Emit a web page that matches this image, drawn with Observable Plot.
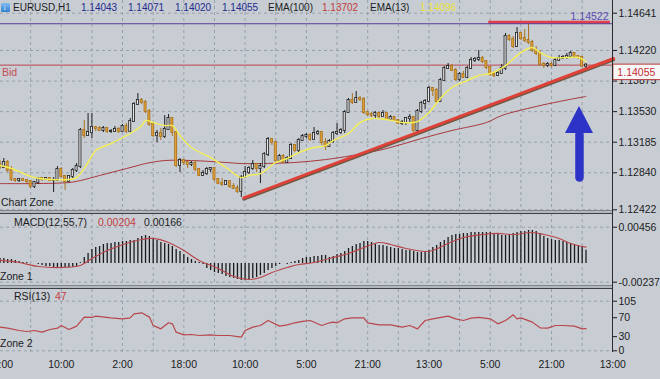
<!DOCTYPE html>
<html><head><meta charset="utf-8">
<script src="https://cdn.jsdelivr.net/npm/d3@7"></script>
<script src="https://cdn.jsdelivr.net/npm/@observablehq/plot@0.6"></script>
<style>
html,body{margin:0;padding:0;background:#c8cdd4;}
#wrap{position:relative;width:660px;height:379px;overflow:hidden;background:#c8cdd4;font-family:"Liberation Sans",Arial,sans-serif;color:#1c1c1c;}
#wrap svg{position:absolute;left:0;}
.t{position:absolute;white-space:nowrap;line-height:1;}
</style></head><body><div id="wrap"></div>
<script>
// ---------------- DATA ----------------
const timeLabels = ["18:00","10:00","2:00","18:00","10:00","5:00","21:00","13:00","5:00","21:00","13:00"];
const timeTicks = [0,16,32,48,64,80,96,112,128,144,160];
const gridBars = [8,16,24,32,40,48,56,64,72,80,88,96,104,112,120,128,136,144,152];
const priceTicks = [1.14641,1.14220,1.13875,1.13530,1.13185,1.12840,1.12422];
const macdTicks = [0.00456,-0.00237];
const rsiTicks = [105,70,30,0];

const firstOpen = 1.12933;
const closes = [
1.12899,1.12956,1.12865,1.12764,1.12752,1.12764,1.12752,1.12741,1.12685,1.12730,
1.12775,1.12764,1.12775,1.12752,1.12752,1.12877,1.12798,1.12741,1.12798,1.12865,
1.12910,1.13317,1.13260,1.13294,1.13351,1.13339,1.13317,1.13339,1.13305,1.13305,
1.13328,1.13305,1.13362,1.13305,1.13418,1.13610,1.13655,1.13633,1.13531,1.13384,
1.13260,1.13283,1.13249,1.13328,1.13452,1.13294,1.12922,1.12978,1.12956,1.12933,
1.12944,1.12877,1.12809,1.12831,1.12877,1.12888,1.12764,1.12718,1.12707,1.12741,
1.12685,1.12662,1.12628,1.12786,1.12843,1.12888,1.12933,1.12888,1.12910,1.13046,
1.13215,1.13181,1.12978,1.13023,1.12956,1.13001,1.13147,1.13091,1.13204,1.13249,
1.13260,1.13215,1.13283,1.13294,1.13181,1.13136,1.13193,1.13283,1.13294,1.13317,
1.13520,1.13655,1.13633,1.13678,1.13667,1.13520,1.13497,1.13486,1.13509,1.13475,
1.13509,1.13441,1.13463,1.13430,1.13396,1.13407,1.13452,1.13463,1.13317,1.13531,
1.13621,1.13644,1.13791,1.13768,1.13644,1.13881,1.14017,1.14039,1.13994,1.13892,
1.13949,1.13915,1.14017,1.14107,1.14118,1.14129,1.14096,1.14028,1.13949,1.13938,
1.13960,1.14017,1.14378,1.14344,1.14265,1.14412,1.14355,1.14333,1.14310,1.14220,
1.14186,1.14062,1.14050,1.14062,1.14050,1.14107,1.14129,1.14141,1.14152,1.14186,
1.14152,1.14141,1.14043,1.14055];
const highs = [
1.12978,1.13001,1.12978,1.12910,1.12775,1.12775,1.12775,1.12764,1.12752,1.12741,
1.12786,1.12786,1.12786,1.12775,1.12786,1.12910,1.12899,1.12809,1.12809,1.12888,
1.12944,1.13339,1.13430,1.13509,1.13509,1.13362,1.13362,1.13362,1.13351,1.13328,
1.13362,1.13351,1.13384,1.13396,1.13452,1.13633,1.13734,1.13678,1.13655,1.13554,
1.13407,1.13317,1.13339,1.13486,1.13497,1.13452,1.13305,1.13001,1.12989,1.12956,
1.12967,1.12978,1.12888,1.12865,1.12899,1.12899,1.12888,1.12775,1.12775,1.12752,
1.12741,1.12718,1.12696,1.12809,1.12910,1.12910,1.12978,1.12944,1.12944,1.13068,
1.13238,1.13226,1.13193,1.13046,1.13046,1.13023,1.13170,1.13159,1.13226,1.13272,
1.13283,1.13283,1.13351,1.13317,1.13305,1.13226,1.13215,1.13305,1.13396,1.13339,
1.13542,1.13678,1.13734,1.13757,1.13700,1.13689,1.13531,1.13520,1.13531,1.13497,
1.13542,1.13509,1.13486,1.13475,1.13441,1.13430,1.13463,1.13497,1.13475,1.13554,
1.13644,1.13667,1.13813,1.13802,1.13791,1.13904,1.14039,1.14073,1.14062,1.14017,
1.13971,1.13983,1.14039,1.14141,1.14141,1.14220,1.14152,1.14107,1.14039,1.13983,
1.13994,1.14062,1.14412,1.14400,1.14378,1.14479,1.14423,1.14457,1.14522,1.14333,
1.14265,1.14220,1.14084,1.14084,1.14084,1.14129,1.14163,1.14163,1.14186,1.14208,
1.14186,1.14163,1.14152,1.14071];
const lows = [
1.12877,1.12888,1.12843,1.12741,1.12730,1.12730,1.12741,1.12718,1.12662,1.12662,
1.12707,1.12741,1.12752,1.12741,1.12617,1.12741,1.12775,1.12640,1.12730,1.12775,
1.12843,1.12888,1.13226,1.13249,1.13226,1.13305,1.13305,1.13294,1.13283,1.13283,
1.13294,1.13283,1.13305,1.13283,1.13294,1.13407,1.13599,1.13610,1.13509,1.13362,
1.13238,1.13181,1.13204,1.13226,1.13317,1.13249,1.12899,1.12843,1.12922,1.12888,
1.12910,1.12854,1.12798,1.12798,1.12809,1.12843,1.12741,1.12707,1.12685,1.12696,
1.12662,1.12651,1.12606,1.12561,1.12775,1.12820,1.12865,1.12843,1.12718,1.12888,
1.13023,1.13147,1.12956,1.12967,1.12944,1.12944,1.12989,1.13068,1.13068,1.13193,
1.13226,1.13193,1.13204,1.13260,1.13147,1.13091,1.13125,1.13170,1.13260,1.13272,
1.13283,1.13509,1.13610,1.13633,1.13644,1.13497,1.13475,1.13463,1.13452,1.13452,
1.13475,1.13430,1.13430,1.13418,1.13384,1.13373,1.13373,1.13407,1.13294,1.13305,
1.13509,1.13554,1.13633,1.13700,1.13621,1.13633,1.13870,1.14005,1.13983,1.13870,
1.13870,1.13904,1.13904,1.14005,1.14084,1.14096,1.14073,1.14005,1.13926,1.13915,
1.13926,1.13949,1.13994,1.14321,1.14242,1.14254,1.14333,1.14310,1.14287,1.14197,
1.14163,1.14039,1.14017,1.14028,1.14028,1.14039,1.14096,1.14118,1.14118,1.14129,
1.14129,1.14118,1.14030,1.14020];

const ema13Bars = [0,3,9,13,18,20,23,25,29,34,37,38,40,43,45,47,50,55,59,63,65,68,70,72,75,78,82,85,87,91,94,97,101,105,109,112,115,118,122,125,128,132,136,139,141,144,148,151,153];
const ema13Vals = [1.12922,1.12888,1.12786,1.12764,1.12764,1.12786,1.12956,1.13091,1.13170,1.13283,1.13373,1.13430,1.13407,1.13373,1.13373,1.13260,1.13125,1.13012,1.12899,1.12786,1.12809,1.12831,1.12888,1.12956,1.13001,1.13068,1.13125,1.13147,1.13204,1.13283,1.13407,1.13452,1.13441,1.13407,1.13418,1.13520,1.13678,1.13802,1.13881,1.13938,1.13960,1.14050,1.14197,1.14254,1.14197,1.14141,1.14141,1.14141,1.14096];
const ema100Bars = [0,9,18,21,26,31,35,38,43,50,59,63,68,77,85,92,101,110,118,127,131,140,146,153];
const ema100Vals = [1.12718,1.12718,1.12730,1.12752,1.12809,1.12865,1.12910,1.12944,1.12978,1.12978,1.12956,1.12944,1.12944,1.12956,1.12989,1.13035,1.13114,1.13226,1.13317,1.13407,1.13486,1.13588,1.13644,1.13702];

const bidPrice = 1.14055;
const highMark = 1.14522;
const highBand = {v: 1.14539, b1: 127.6, b2: 159.4};
const trendBars = [63.66, 160.2];
const trendVals = [1.12557, 1.14130];
const arrowHeadBars = [147.65, 151.3, 154.96];
const arrowHeadTop = [1.13283, 1.13588, 1.13283];
const arrowBase = 1.13283;
const arrowShaftBars = [151.3, 151.3];
const arrowShaftVals = [1.13272, 1.12786];

const macdHist = [
0.00062,0.00062,0.00049,0.00049,0.00037,0.00024,0.00011,0.00011,0,0,
-0.00014,-0.00026,-0.00039,-0.00039,-0.00052,-0.00052,-0.00052,-0.00052,-0.00052,-0.00052,
-0.00039,0.00011,0.00074,0.00125,0.00175,0.00200,0.00213,0.00238,0.00251,0.00251,
0.00263,0.00263,0.00276,0.00276,0.00289,0.00289,0.00314,0.00339,0.00352,0.00339,
0.00314,0.00289,0.00263,0.00251,0.00238,0.00213,0.00175,0.00150,0.00112,0.00074,
0.00049,0.00024,0.00011,-0.00014,-0.00064,-0.00089,-0.00115,-0.00127,-0.00140,-0.00165,
-0.00178,-0.00190,-0.00203,-0.00215,-0.00215,-0.00203,-0.00190,-0.00178,-0.00152,-0.00127,
-0.00089,-0.00064,-0.00039,-0.00014,0,-0.00014,0.00011,0.00024,0.00037,0.00062,
0.00074,0.00074,0.00087,0.00087,0.00100,0.00100,0.00074,0.00087,0.00112,0.00125,
0.00150,0.00188,0.00213,0.00238,0.00251,0.00276,0.00276,0.00263,0.00238,0.00226,
0.00226,0.00213,0.00200,0.00188,0.00188,0.00175,0.00163,0.00163,0.00150,0.00137,
0.00137,0.00150,0.00163,0.00200,0.00226,0.00263,0.00289,0.00326,0.00352,0.00364,
0.00364,0.00377,0.00377,0.00389,0.00389,0.00389,0.00389,0.00389,0.00389,0.00377,
0.00364,0.00352,0.00352,0.00364,0.00377,0.00389,0.00402,0.00402,0.00415,0.00415,
0.00402,0.00377,0.00339,0.00314,0.00301,0.00289,0.00289,0.00276,0.00263,0.00251,
0.00238,0.00226,0.00213,0.00166];
const macdSigBars = [0,5,10,16,21,24,28,33,37,40,44,48,52,57,61,65,68,71,75,78,82,86,91,95,99,102,106,111,113,117,121,126,130,134,139,142,146,149,153];
const macdSigVals = [0.00037,0.00011,-0.00039,-0.00052,-0.00026,0.00062,0.00163,0.00251,0.00301,0.00314,0.00263,0.00163,0.00037,-0.00064,-0.00165,-0.00203,-0.00178,-0.00115,-0.00052,-0.00014,0.00011,0.00062,0.00125,0.00200,0.00263,0.00238,0.00188,0.00150,0.00163,0.00251,0.00326,0.00364,0.00377,0.00364,0.00389,0.00364,0.00314,0.00251,0.00204];

const rsiBars = [0,2,5,7,9,11,13,15,16,18,20,22,24,25,29,32,34,35,37,39,40,41,42,44,45,46,48,50,52,55,57,60,63,64,66,68,70,73,75,77,79,81,84,86,87,88,90,92,95,96,99,102,105,107,109,111,113,117,119,121,123,125,128,130,132,134,135,136,139,141,143,145,147,150,152,153];
const rsiVals = [50.1,47.9,43.0,40.9,43.0,39.5,45.1,47.9,53.6,45.1,52.2,71.3,70.6,73.4,69.8,67.7,69.8,78.3,80.4,71.3,53.6,50.1,46.5,59.3,57.1,39.5,33.8,34.5,32.4,33.8,32.4,32.4,28.9,43.0,50.1,53.6,64.2,52.2,55.0,59.3,62.1,64.2,53.6,59.3,60.7,59.3,67.7,69.8,69.8,59.3,55.0,55.0,50.1,53.6,46.5,64.2,67.7,73.4,67.7,64.2,69.1,70.6,67.7,57.1,64.2,76.2,67.7,69.8,60.7,48.7,47.9,53.6,53.6,52.2,46.5,47];

// ---------------- TABLES ----------------
const candles = closes.map((c, i) => ({i, o: i ? closes[i-1] : firstOpen, c, h: highs[i], l: lows[i]}));
const bull = candles.filter(d => d.c >= d.o);
const bear = candles.filter(d => d.c < d.o);
const zip = (b, v) => b.map((x, k) => ({b: x, v: v[k]}));
const ema13 = zip(ema13Bars, ema13Vals);
const ema100 = zip(ema100Bars, ema100Vals);
const trend = zip(trendBars, trendVals);
const arrowHead = arrowHeadBars.map((b, k) => ({b, lo: arrowBase, hi: arrowHeadTop[k]}));
const arrowShaft = zip(arrowShaftBars, arrowShaftVals);
const macd = macdHist.map((v, i) => ({i, v}));
const macdSig = zip(macdSigBars, macdSigVals);
const rsi = zip(rsiBars, rsiVals);

// ---------------- STYLE ----------------
const FONT = "'Liberation Sans', Arial, sans-serif";
const GRID = {stroke: "#98a0a9", strokeDasharray: "3,3", strokeWidth: 1};
const X = {domain: [0, 160], range: [-0.5, 612.3]};
const baseStyle = {background: "transparent", fontFamily: FONT, fontSize: "10.5px", color: "#1c1c1c", overflow: "visible"};
const common = {width: 660, marginLeft: 0, marginRight: 48, style: baseStyle};
const wrap = document.getElementById("wrap");
function put(svg, top) { svg.style.top = top + "px"; wrap.appendChild(svg); }
const f5 = d => d.toFixed(5);
const AX = {anchor: "right", tickSize: 4, tickPadding: 2, fontSize: 10.5, label: null};

// ---------------- MAIN PANEL ----------------
const BULL_F = "#e6e6e6", BULL_S = "#1e1e1e", BEAR_F = "#e3a238", BEAR_S = "#a8711c";
const main = Plot.plot({
  ...common, height: 216, marginTop: 0, marginBottom: 6,
  x: {...X, axis: null},
  y: {domain: [1.12422, 1.14641], range: [209.3, 12.7]},
  marks: [
    Plot.ruleY(priceTicks, GRID),
    Plot.ruleX(gridBars, GRID),
    Plot.ruleY([bidPrice], {stroke: "#b9444b", strokeWidth: 1}),
    Plot.line(ema100, {x: "b", y: "v", stroke: "#a8383c", strokeWidth: 1, curve: "catmull-rom"}),
    Plot.line(trend, {x: "b", y: "v", stroke: "#6e5a44", strokeWidth: 3, dy: 1.3}),
    Plot.line(trend, {x: "b", y: "v", stroke: "#df4139", strokeWidth: 3}),
    Plot.ruleX(bear, {x: "i", y1: "l", y2: "h", stroke: BEAR_S, strokeWidth: 1}),
    Plot.ruleX(bull, {x: "i", y1: "l", y2: "h", stroke: BULL_S, strokeWidth: 1}),
    Plot.rect(bear, {x1: d => d.i - 0.27, x2: d => d.i + 0.27, y1: "o", y2: "c", fill: BEAR_F, stroke: BEAR_S, strokeWidth: 0.8, insetTop: -0.5, insetBottom: -0.5}),
    Plot.rect(bull, {x1: d => d.i - 0.27, x2: d => d.i + 0.27, y1: "o", y2: "c", fill: BULL_F, stroke: BULL_S, strokeWidth: 0.8, insetTop: -0.5, insetBottom: -0.5}),
    Plot.line(ema13, {x: "b", y: "v", stroke: "#f4ef55", strokeWidth: 1.4, curve: "catmull-rom"}),
    Plot.ruleY([highBand], {y: "v", x1: "b1", x2: "b2", stroke: "#e0404c", strokeWidth: 3.2}),
    Plot.ruleY([highMark], {stroke: "#5b3c9c", strokeWidth: 1}),
    Plot.text([highMark], {y: d => d, text: d => f5(d), frameAnchor: "right", textAnchor: "end", dx: -4, dy: -7, fill: "#5b4bb0", fontSize: 10.5}),
    Plot.areaY(arrowHead, {x: "b", y1: "lo", y2: "hi", fill: "#2c33c6"}),
    Plot.line(arrowShaft, {x: "b", y: "v", stroke: "#2c33c6", strokeWidth: 8.5, strokeLinecap: "round"}),
    Plot.axisY(priceTicks, {...AX, tickFormat: f5}),
    Plot.rect([bidPrice], {x1: 160.15, x2: 175, y1: d => d, y2: d => d, insetTop: -0.5, insetBottom: -15, fill: "#f7f7f7", stroke: "#b8393d", strokeWidth: 1}),
    Plot.text([bidPrice], {x: 160.15, y: d => d, text: d => f5(d), textAnchor: "start", dx: 4, dy: 8, fill: "#c62e32", fontSize: 10.5})
  ]
});
put(main, 0);

// ---------------- MACD PANEL ----------------
const macdPlot = Plot.plot({
  ...common, height: 76, marginTop: 1, marginBottom: 2,
  x: {...X, axis: null},
  y: {domain: [-0.00237, 0.00456], range: [69.7, 14.7]},
  marks: [
    Plot.ruleY(macdTicks, GRID),
    Plot.ruleX(gridBars, GRID),
    Plot.ruleX(macd, {x: "i", y1: 0, y2: "v", stroke: "#1a1a1a", strokeWidth: 1.3}),
    Plot.line(macdSig, {x: "b", y: "v", stroke: "#b8464b", strokeWidth: 1.2, curve: "catmull-rom"}),
    Plot.axisY(macdTicks, {...AX, tickFormat: f5})
  ]
});
put(macdPlot, 212);

// ---------------- RSI PANEL ----------------
const rsiPlot = Plot.plot({
  ...common, height: 91, marginTop: 1, marginBottom: 27,
  x: {...X},
  y: {domain: [0, 105], range: [62.3, 12.7]},
  marks: [
    Plot.ruleY([105, 0], GRID),
    Plot.ruleX(gridBars, GRID),
    Plot.line(rsi, {x: "b", y: "v", stroke: "#b8464b", strokeWidth: 1.2}),
    Plot.axisY(rsiTicks, {...AX}),
    Plot.axisX(timeTicks, {anchor: "bottom", tickSize: 0, tickPadding: 8, fontSize: 10.5, label: null, tickFormat: d => timeLabels[Math.round(d / 16)]})
  ]
});
put(rsiPlot, 288);

// ---------------- FRAME DECORATION ----------------
function div(css) { const d = document.createElement("div"); d.style.cssText = "position:absolute;" + css; wrap.appendChild(d); return d; }
div("left:0;top:209.5px;width:612px;height:4px;box-sizing:border-box;border-top:1px solid #80858b;border-bottom:1px solid #3c4045;background:#b3b8bf;");
div("left:0;top:285px;width:612px;height:4px;box-sizing:border-box;border-top:1px solid #80858b;border-bottom:1px solid #3c4045;background:#b3b8bf;");
div("left:612px;top:0;width:1px;height:352px;background:#2a2a2a;");

// ---------------- TEXT LABELS ----------------
function txt(s, left, base, color, size) {
  size = size || 10.5;
  const d = document.createElement("div");
  d.className = "t"; d.textContent = s;
  d.style.left = left + "px"; d.style.top = (base - 0.85 * size) + "px";
  d.style.fontSize = size + "px"; d.style.color = color || "#1c1c1c";
  wrap.appendChild(d);
}
const last = candles[candles.length - 1];
div("left:1px;top:3px;width:9px;height:9px;border-radius:1px;background:linear-gradient(#7fbdf0,#2f7fd0);");
txt("↓", 2.5, 11, "#ffffff", 8);
const HB = 11, HS = 10;
txt("EURUSD,H1", 13, HB, "#1c1c1c", HS);
txt(f5(last.o), 81, HB, "#222a8c", HS);
txt(f5(last.h), 128, HB, "#222a8c", HS);
txt(f5(last.l), 175, HB, "#222a8c", HS);
txt(f5(last.c), 222, HB, "#222a8c", HS);
txt("EMA(100)", 268, HB, "#1c1c1c", HS);
txt(f5(ema100Vals[ema100Vals.length - 1]), 322, HB, "#c23a3a", HS);
txt("EMA(13)", 370, HB, "#1c1c1c", HS);
txt(f5(ema13Vals[ema13Vals.length - 1]), 420, HB, "#e8e236", HS);

txt("Bid", 2, 76, "#c64c55");
txt("Chart Zone", 1, 205.5);
txt("MACD(12,55,7)", 14, 225.5);
txt(f5(macdSigVals[macdSigVals.length - 1]), 98, 225.5, "#c43c42");
txt(f5(macdHist[macdHist.length - 1]), 144, 225.5);
txt("Zone 1", 0, 279.5);
txt("RSI(13)", 14, 299.5);
txt(String(Math.round(rsiVals[rsiVals.length - 1])), 55, 299.5, "#c43c42");
txt("Zone 2", 0, 346.5);
</script></body></html>
